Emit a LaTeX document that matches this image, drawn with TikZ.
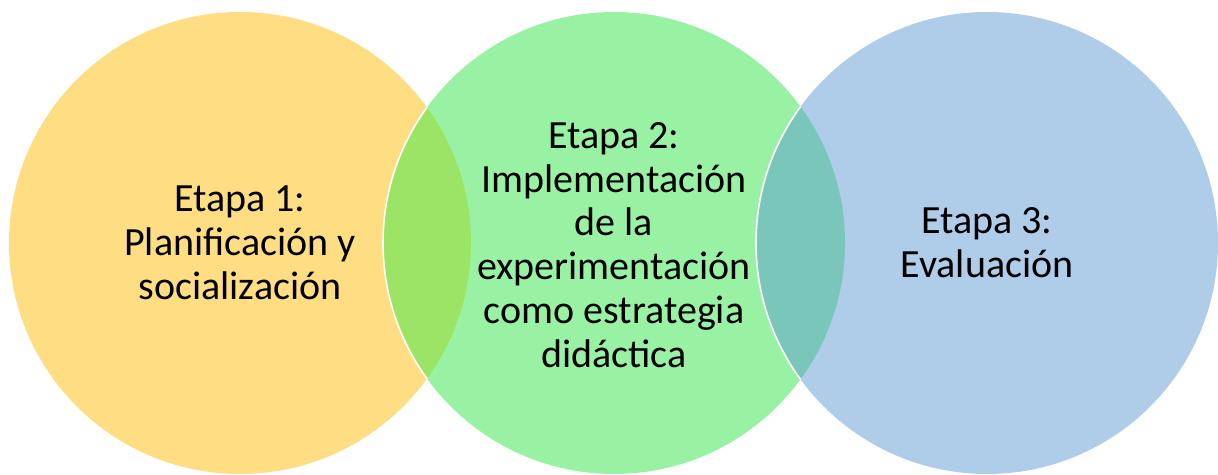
\documentclass[tikz,border=0pt]{standalone}
\usepackage{fontspec}
\setmainfont{Carlito}
\definecolor{stageone}{RGB}{255, 222, 131}
\definecolor{stagetwo}{RGB}{153, 242, 164}
\definecolor{stagethree}{RGB}{175, 204, 233}
\definecolor{overlapone}{RGB}{156, 228, 101}
\definecolor{overlaptwo}{RGB}{123, 198, 186}
\usepackage{tikz}

\begin{document}
\begin{tikzpicture}[x=0.5pt, y=-0.5pt,
        every node/.style={align=center, font=\fontsize{20}{21.9}\selectfont, text=black}
      ]
        \useasboundingbox (0,0) rectangle (1218,475);
        \coordinate (c1) at (240,243);
        \coordinate (c2) at (614,243);
        \coordinate (c3) at (987,243);
        \def\rad{231}
        % circles
        \fill[stageone] (c1) circle (\rad);
        \fill[stagetwo] (c2) circle (\rad);
        \fill[stagethree] (c3) circle (\rad);
        % overlaps
        \begin{scope}
          \clip (c1) circle (\rad);
          \fill[overlapone] (c2) circle (\rad);
          \draw[white, line width=0.8pt] (c2) circle (\rad);
        \end{scope}
        \begin{scope}
          \clip (c2) circle (\rad);
          \fill[overlaptwo] (c3) circle (\rad);
          \draw[white, line width=0.8pt] (c3) circle (\rad);
        \end{scope}
        % labels
        \node (planning) at (c1) {Etapa 1:\\Planificación y\\socialización};
        \node (implementation) at ([yshift=-1pt]c2) {Etapa 2:\\Implementación\\de la\\experimentación\\como estrategia\\didáctica};
        \node (evaluation) at (c3) {Etapa 3:\\Evaluación};
      \end{tikzpicture}
\end{document}
